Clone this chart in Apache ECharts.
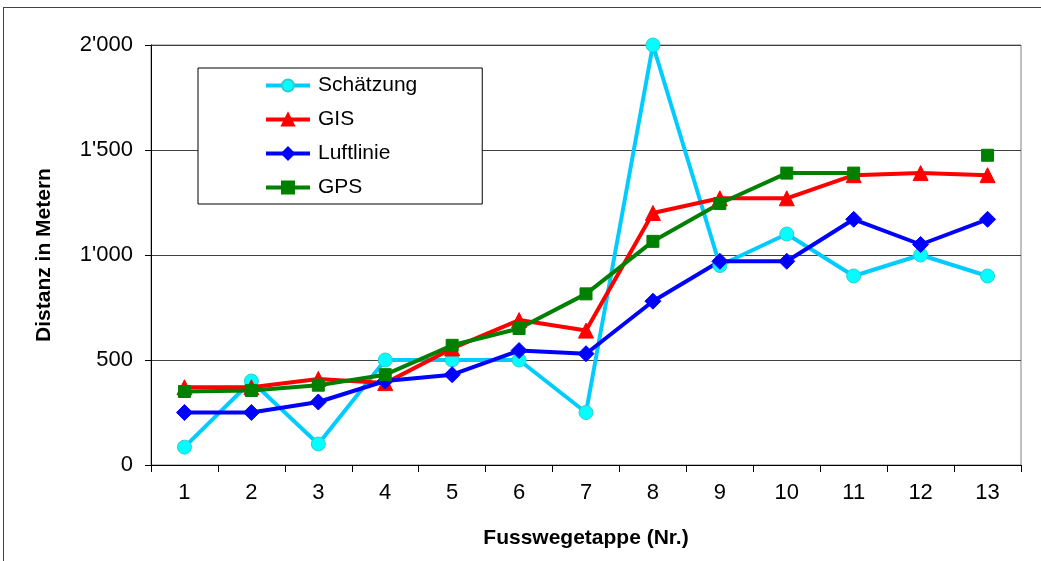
<!DOCTYPE html>
<html>
<head>
<meta charset="utf-8">
<script src="https://cdn.jsdelivr.net/npm/echarts@6/dist/echarts.min.js"></script>
<style>
  html, body { margin: 0; padding: 0; background: #fff; }
  #frame { position: absolute; left: 3px; top: 7px; width: 1100px; height: 600px;
           border-left: 1px solid #444; border-top: 1px solid #444; }
  #chart { position: absolute; left: 0; top: 0; width: 1041px; height: 561px; }
</style>
</head>
<body>
<div id="frame"></div>
<div id="chart"></div>
<script>
  // Fusswegetappen 1..13
  var etappen = ['1','2','3','4','5','6','7','8','9','10','11','12','13'];
  var schaetzung = [85, 400, 100, 500, 500, 500, 250, 2000, 950, 1100, 900, 1000, 900];
  var gis        = [370, 370, 410, 390, 555, 690, 640, 1200, 1270, 1270, 1380, 1390, 1380];
  var luftlinie  = [250, 250, 300, 400, 430, 545, 530, 780, 970, 970, 1170, 1050, 1170];
  var gps        = [350, 355, 380, 430, 570, 650, 815, 1065, 1245, 1390, 1390, null, 1475];

  var font = '"Liberation Sans", Arial, sans-serif';

  // 1500 -> 1'500
  function tausender(v) {
    return String(v).replace(/\B(?=(\d{3})+(?!\d))/g, "'");
  }

  function linie(name, data, color, symbol, size, markerFill, markerBorder) {
    return {
      name: name,
      type: 'line',
      data: data,
      symbol: symbol,
      symbolSize: size,
      connectNulls: false,
      lineStyle: { color: color, width: 4 },
      itemStyle: { color: markerFill || color, borderColor: markerBorder || color, borderWidth: 1 },
      emphasis: { disabled: true }
    };
  }

  var myChart = echarts.init(document.getElementById('chart'));
  myChart.setOption({
    animation: false,
    textStyle: { fontFamily: font },
    grid: { left: 151, right: 20, top: 45, bottom: 96, show: true, borderColor: '#808080', borderWidth: 1 },
    legend: {
      orient: 'vertical',
      left: 198,
      top: 68,
      padding: [7, 65, 6, 66],
      itemWidth: 44,
      itemHeight: 15,
      itemGap: 13,
      borderColor: '#000',
      borderWidth: 1,
      backgroundColor: '#fff',
      lineStyle: { width: 4 },
      textStyle: { fontSize: 21, color: '#000', fontFamily: font, padding: [0, 0, 0, 3] },
      data: ['Schätzung', 'GIS', 'Luftlinie', 'GPS']
    },
    xAxis: {
      type: 'category',
      data: etappen,
      boundaryGap: true,
      name: 'Fusswegetappe (Nr.)',
      nameLocation: 'middle',
      nameGap: 63,
      nameTextStyle: { fontSize: 21, fontWeight: 'bold', color: '#000', fontFamily: font },
      axisLine: { lineStyle: { color: '#000', width: 1 } },
      axisTick: { show: true, length: 7, lineStyle: { color: '#000' } },
      axisLabel: { fontSize: 22, color: '#000', margin: 17, fontFamily: font },
      splitLine: { show: false }
    },
    yAxis: {
      type: 'value',
      min: 0,
      max: 2000,
      interval: 500,
      name: 'Distanz in Metern',
      nameLocation: 'middle',
      nameGap: 96,
      nameTextStyle: { fontSize: 21, fontWeight: 'bold', color: '#000', fontFamily: font },
      axisLine: { show: true, lineStyle: { color: '#000', width: 1 } },
      axisTick: { show: true, length: 6, lineStyle: { color: '#000' } },
      axisLabel: { fontSize: 22, color: '#000', margin: 18, fontFamily: font, formatter: tausender },
      splitLine: { show: true, lineStyle: { color: '#404040', width: 1 } }
    },
    series: [
      linie('Schätzung', schaetzung, '#00CCFF', 'circle', 14, '#00FFFF', '#33CCCC'),
      linie('GIS', gis, '#FF0000', 'triangle', 15),
      linie('Luftlinie', luftlinie, '#0000FF', 'diamond', 16),
      linie('GPS', gps, '#008000', 'rect', 12)
    ]
  });
</script>
</body>
</html>
